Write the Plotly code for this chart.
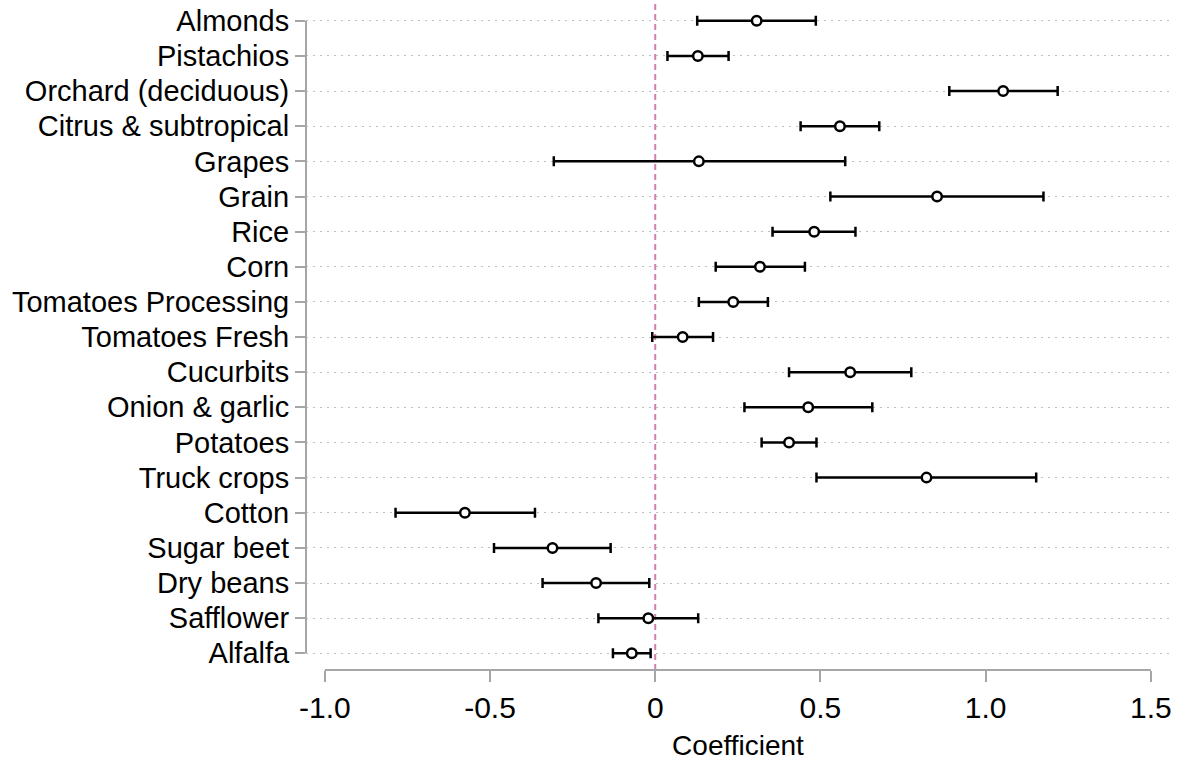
import plotly.graph_objects as go

# Crop categories, top to bottom
crops = [
    "Almonds", "Pistachios", "Orchard (deciduous)", "Citrus & subtropical",
    "Grapes", "Grain", "Rice", "Corn", "Tomatoes Processing", "Tomatoes Fresh",
    "Cucurbits", "Onion & garlic", "Potatoes", "Truck crops", "Cotton",
    "Sugar beet", "Dry beans", "Safflower", "Alfalfa",
]
# Point estimates and confidence bounds
coef = [0.307, 0.129, 1.053, 0.559, 0.132, 0.853, 0.481, 0.317, 0.236, 0.083,
        0.590, 0.463, 0.405, 0.821, -0.576, -0.311, -0.179, -0.021, -0.071]
ci_low = [0.127, 0.037, 0.890, 0.440, -0.307, 0.530, 0.355, 0.183, 0.132, -0.009,
          0.405, 0.270, 0.322, 0.488, -0.786, -0.488, -0.341, -0.172, -0.128]
ci_high = [0.486, 0.222, 1.218, 0.678, 0.575, 1.175, 0.606, 0.453, 0.341, 0.175,
           0.775, 0.657, 0.488, 1.153, -0.364, -0.135, -0.018, 0.130, -0.014]

x_ticks = [-1.0, -0.5, 0, 0.5, 1.0, 1.5]
x_tick_text = ["-1.0", "-0.5", "0", "0.5", "1.0", "1.5"]

n = len(crops)
ypos = [n - 1 - i for i in range(n)]
err_plus = [h - c for h, c in zip(ci_high, coef)]
err_minus = [c - l for c, l in zip(coef, ci_low)]

AXIS_GRAY = "#a6a6a6"
FONT = "Liberation Sans, Arial, sans-serif"

fig = go.Figure()
fig.add_trace(go.Scatter(
    x=coef, y=ypos, mode="markers",
    marker=dict(symbol="circle", size=9.5, color="white",
                line=dict(color="black", width=2.5)),
    error_x=dict(type="data", symmetric=False, array=err_plus,
                 arrayminus=err_minus, color="black", thickness=2.5, width=5),
    showlegend=False, hoverinfo="skip",
))

# reference line at zero
fig.add_shape(type="line", xref="x", yref="paper", x0=0, x1=0, y0=0, y1=1.01,
              line=dict(color="#d67fae", width=2, dash="6px,4px"), layer="below")
# x axis line spanning the labelled range
fig.add_shape(type="line", xref="x", yref="paper", x0=x_ticks[0], x1=x_ticks[-1],
              y0=0, y1=0, line=dict(color=AXIS_GRAY, width=2))
# y axis line spanning the categories
fig.add_shape(type="line", xref="paper", yref="y", x0=0, x1=0, y0=0, y1=n - 1,
              line=dict(color=AXIS_GRAY, width=2))

fig.update_layout(
    width=1188, height=765,
    margin=dict(l=306, r=18, t=5, b=95),
    paper_bgcolor="white", plot_bgcolor="white",
    font=dict(family=FONT, color="black", size=28),
    xaxis=dict(
        range=[-1.057, 1.558], tickvals=x_ticks, ticktext=x_tick_text,
        ticks="outside", ticklen=11, tickwidth=2, tickcolor=AXIS_GRAY,
        showgrid=False, zeroline=False, showline=False,
        tickfont=dict(size=30),
        title=dict(text="Coefficient", font=dict(size=28), standoff=12),
    ),
    yaxis=dict(
        range=[-0.475, n - 1 + 0.45], tickvals=ypos, ticktext=crops,
        ticks="outside", ticklen=10, tickwidth=2, tickcolor=AXIS_GRAY,
        showgrid=True, gridcolor="#bfbfbf", gridwidth=1, griddash="2px,5px",
        zeroline=False, showline=False,
        tickfont=dict(size=29),
    ),
)

fig.write_html("out.html")
